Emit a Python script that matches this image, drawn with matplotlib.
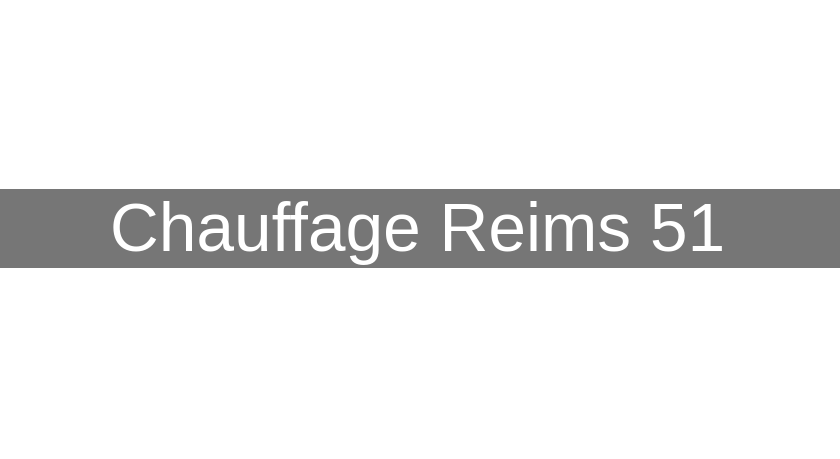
import matplotlib
matplotlib.use("Agg")
import matplotlib.pyplot as plt

# text on the banner
banner_text = "Chauffage Reims 51"
band_color = "#767676"

fig = plt.figure(figsize=(8.4, 4.6), dpi=100)
ax = fig.add_axes([0, 0, 1, 1])
ax.set_xlim(0, 840)
ax.set_ylim(460, 0)
ax.axis("off")

# grey band across the whole width
ax.axhspan(190, 269, color=band_color, lw=0)

ax.text(417.5, 251, banner_text, color="white", fontsize=48.7,
        family="Liberation Sans", ha="center", va="baseline")

plt.savefig("out.png", dpi=100, facecolor="white")
